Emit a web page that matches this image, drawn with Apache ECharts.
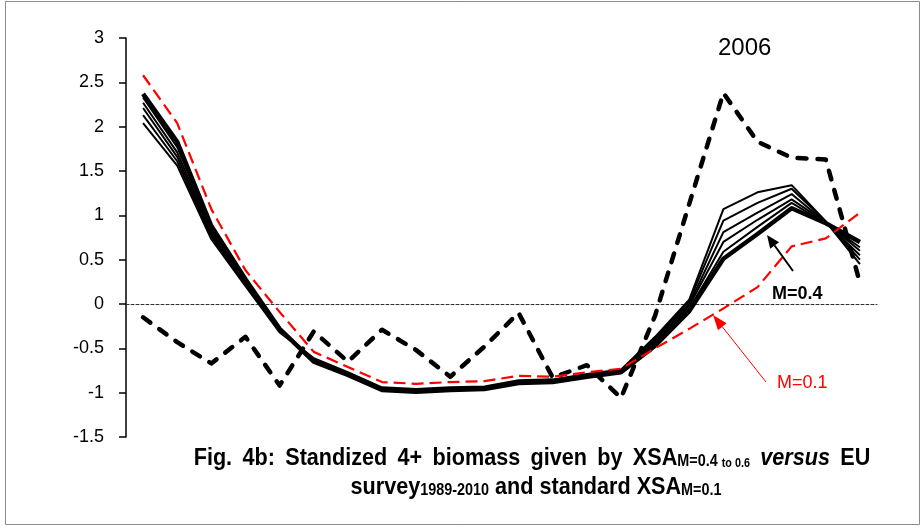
<!DOCTYPE html>
<html>
<head>
<meta charset="utf-8">
<script src="https://cdn.jsdelivr.net/npm/echarts@6/dist/echarts.min.js"></script>
<style>
html,body{margin:0;padding:0;background:#fff;}
#chart{width:922px;height:527px;}
</style>
</head>
<body>
<div id="chart"></div>
<script>
// ---- data ----
var years = ['1989','1990','1991','1992','1993','1994','1995','1996','1997','1998','1999',
             '2000','2001','2002','2003','2004','2005','2006','2007','2008','2009','2010'];
var yTicks = [-1.5, -1, -0.5, 0, 0.5, 1, 1.5, 2, 2.5, 3];
var surveyEU = [-0.15,-0.43,-0.67,-0.37,-0.92,-0.31,-0.65,-0.29,-0.52,-0.82,-0.48,-0.10,-0.83,-0.69,-1.06,-0.13,1.13,2.38,1.83,1.65,1.63,0.24];
var xsaM01   = [2.58,2.04,1.07,0.38,-0.09,-0.54,-0.71,-0.88,-0.90,-0.88,-0.87,-0.81,-0.82,-0.77,-0.73,-0.50,-0.28,-0.05,0.19,0.65,0.74,1.03];
var xsaM040  = [2.37,1.83,0.88,0.28,-0.28,-0.65,-0.80,-0.97,-0.99,-0.97,-0.96,-0.89,-0.88,-0.82,-0.77,-0.47,-0.08,0.51,0.79,1.08,0.91,0.70];
var xsaM044  = [2.33,1.77,0.85,0.27,-0.28,-0.64,-0.79,-0.96,-0.98,-0.96,-0.95,-0.88,-0.87,-0.81,-0.76,-0.45,-0.05,0.59,0.87,1.14,0.91,0.64];
var xsaM048  = [2.27,1.71,0.82,0.25,-0.29,-0.63,-0.79,-0.96,-0.98,-0.96,-0.95,-0.88,-0.87,-0.81,-0.76,-0.43,-0.02,0.70,0.95,1.18,0.92,0.60];
var xsaM052  = [2.21,1.66,0.79,0.24,-0.30,-0.63,-0.78,-0.95,-0.97,-0.95,-0.94,-0.87,-0.86,-0.80,-0.75,-0.41,0.00,0.81,1.03,1.24,0.92,0.55];
var xsaM056  = [2.13,1.61,0.76,0.22,-0.31,-0.62,-0.78,-0.95,-0.97,-0.95,-0.94,-0.87,-0.86,-0.80,-0.75,-0.39,0.03,0.94,1.14,1.30,0.93,0.50];
var xsaM060  = [2.04,1.56,0.73,0.20,-0.32,-0.61,-0.77,-0.94,-0.96,-0.94,-0.93,-0.86,-0.85,-0.79,-0.74,-0.37,0.05,1.07,1.26,1.34,0.93,0.45];

var thinLines = [
  {name:'XSA M=0.44', data:xsaM044},
  {name:'XSA M=0.48', data:xsaM048},
  {name:'XSA M=0.52', data:xsaM052},
  {name:'XSA M=0.56', data:xsaM056},
  {name:'XSA M=0.60', data:xsaM060}
];

var FONT = "'Liberation Sans', Arial, sans-serif";

var chart = echarts.init(document.getElementById('chart'), null, {renderer:'canvas'});

var series = [];
thinLines.forEach(function(l){
  series.push({
    name:l.name, type:'line', data:l.data, symbol:'none', smooth:false, z:2,
    lineStyle:{color:'#000', width:2}
  });
});
series.push({
  name:'XSA M=0.4', type:'line', data:xsaM040, symbol:'none', z:3,
  lineStyle:{color:'#000', width:4.5, join:'round'}
});
series.push({
  name:'EU survey', type:'line', data:surveyEU, symbol:'none', z:4,
  lineStyle:{color:'#000', width:4.5, type:[9,11], cap:'round', join:'round'}
});
series.push({
  name:'XSA M=0.1', type:'line', data:xsaM01, symbol:'none', z:5,
  lineStyle:{color:'#ff0000', width:2.2, type:[12,6]}
});

function arrow(tail, tip, color, w, hl, hw){
  var dx = tip[0]-tail[0], dy = tip[1]-tail[1];
  var L = Math.sqrt(dx*dx+dy*dy), ux = dx/L, uy = dy/L;
  var bx = tip[0]-hl*ux, by = tip[1]-hl*uy;
  var px = -uy*hw, py = ux*hw;
  return [
    {type:'line', shape:{x1:tail[0], y1:tail[1], x2:bx, y2:by}, style:{stroke:color, lineWidth:w}, z:10},
    {type:'polygon', shape:{points:[[tip[0],tip[1]],[bx+px,by+py],[bx-px,by-py]]}, style:{fill:color}, z:10}
  ];
}

var titleRich = {
  b:{fontFamily:FONT, fontWeight:'bold', fontSize:24, lineHeight:28, verticalAlign:'bottom', color:'#000'},
  w:{fontFamily:FONT, fontWeight:'bold', fontSize:24, lineHeight:28, verticalAlign:'bottom', color:'#000', width:11.5},
  i:{fontFamily:FONT, fontWeight:'bold', fontStyle:'italic', fontSize:24, lineHeight:28, verticalAlign:'bottom', color:'#000'},
  s:{fontFamily:FONT, fontWeight:'bold', fontSize:16, lineHeight:15, verticalAlign:'bottom', color:'#000'},
  t:{fontFamily:FONT, fontWeight:'bold', fontSize:12, lineHeight:14, verticalAlign:'bottom', color:'#000'}
};
var line1Words = ['Fig.','4b:','Standized','4+','biomass','given','by'];
var line1 = line1Words.map(function(w){return '{b|'+w+'}';}).join('{w| }') +
  '{w| }{b|XSA}{s|M=0.4 }{t|to 0.6}{w| }{i|versus}{w| }{b|EU}';

var graphics = [
  {type:'rect', shape:{x:5.5, y:1.5, width:914, height:523}, style:{fill:'none', stroke:'#8c8c8c', lineWidth:1}, z:-1},
  {type:'text', left:718, top:36, style:{text:'2006', font:'24px '+FONT, fill:'#000'}, z:10},
  {type:'text', left:772, top:285, style:{text:'M=0.4', font:'bold 18px '+FONT, fill:'#000'}, z:10},
  {type:'text', left:777, top:374, style:{text:'M=0.1', font:'18px '+FONT, fill:'#ff0000'}, z:10},
  {type:'text', x:532, y:456, scaleX:0.9, originX:0, originY:0, style:{
      text:line1, align:'center', verticalAlign:'middle', rich:titleRich
  }, z:10},
  {type:'text', x:536, y:485, scaleX:0.9, originX:0, originY:0, style:{
      text:'{b|survey}{s|1989-2010}{b| and standard XSA}{s|M=0.1}',
      align:'center', verticalAlign:'middle', rich:titleRich
  }, z:10}
].concat(arrow([793,271],[767,235],'#000',2,13,5.5))
 .concat(arrow([766,382],[713,315],'#ff0000',1,15,5.5));

chart.setOption({
  animation:false,
  backgroundColor:'#fff',
  grid:{left:126, right:45, top:38, bottom:90, containLabel:false},
  xAxis:{
    type:'category', data:years, boundaryGap:true,
    axisLine:{show:true, onZero:true, lineStyle:{color:'#333', width:1, type:[3,2]}},
    axisTick:{show:false}, axisLabel:{show:false}, splitLine:{show:false}
  },
  yAxis:{
    type:'value', min:yTicks[0], max:yTicks[yTicks.length-1], interval:0.5,
    axisLine:{show:true, lineStyle:{color:'#000', width:1.5}},
    axisTick:{show:true, inside:false, length:7, lineStyle:{color:'#000', width:1.5}},
    axisLabel:{show:true, margin:22, color:'#000', fontSize:18, fontFamily:FONT,
      formatter:function(v){ return String(Math.round(v*10)/10); }},
    splitLine:{show:false}
  },
  series:series,
  graphic:graphics
});
</script>
</body>
</html>
